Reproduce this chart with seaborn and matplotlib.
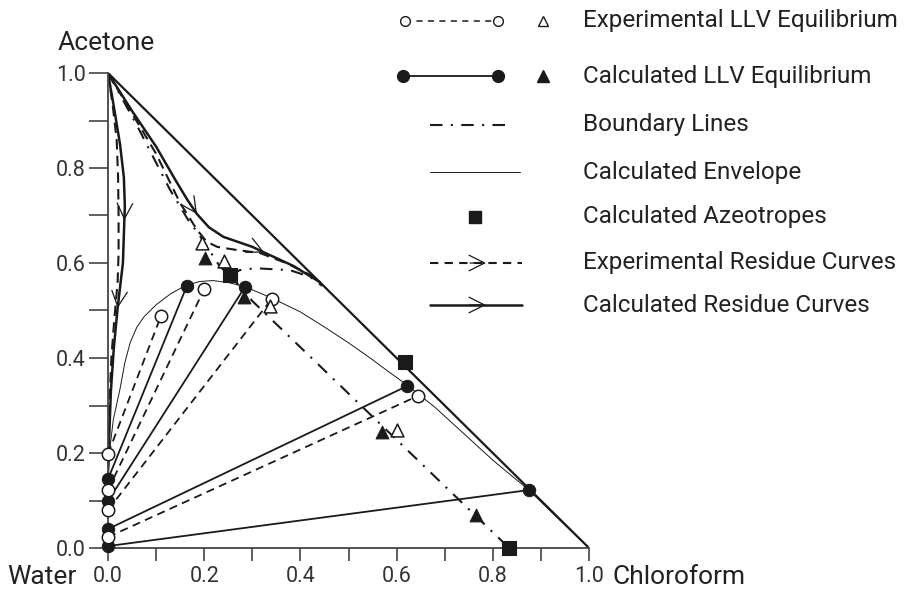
import numpy as np
import pandas as pd
import matplotlib
matplotlib.use('Agg')
import matplotlib.pyplot as plt
import seaborn as sns
from matplotlib.ticker import MultipleLocator

# x = chloroform mole fraction , y = acetone mole fraction
# experimental tie lines ( water rich end -> organic end )
exp_tie_x1 = [0.0, 0.0, 0.0, 0.0]
exp_tie_y1 = [0.198, 0.122, 0.080, 0.023]
exp_tie_x2 = [0.110, 0.200, 0.340, 0.644]
exp_tie_y2 = [0.488, 0.545, 0.524, 0.320]

# calculated tie lines
calc_tie_x1 = [0.0, 0.0, 0.0, 0.0]
calc_tie_y1 = [0.145, 0.099, 0.040, 0.004]
calc_tie_x2 = [0.164, 0.285, 0.622, 0.875]
calc_tie_y2 = [0.552, 0.550, 0.341, 0.122]

# LLV triangles
exp_llv_x = [0.195, 0.241, 0.337, 0.601]
exp_llv_y = [0.642, 0.604, 0.510, 0.248]
calc_llv_x = [0.202, 0.283, 0.570, 0.765]
calc_llv_y = [0.610, 0.528, 0.244, 0.069]

# azeotropes
azeo_x = [0.254, 0.617, 0.834]
azeo_y = [0.574, 0.392, 0.0]

# calculated envelope
env_x = [0.0, 0.002, 0.004, 0.011, 0.025, 0.035, 0.046, 0.060, 0.075, 0.100, 0.130, 0.160,
         0.190, 0.218, 0.250, 0.285, 0.341, 0.400, 0.455, 0.500, 0.545, 0.585, 0.622, 0.680,
         0.732, 0.800, 0.875, 0.940, 1.0]
env_y = [0.120, 0.170, 0.210, 0.270, 0.335, 0.390, 0.432, 0.465, 0.487, 0.512, 0.535, 0.552,
         0.561, 0.563, 0.559, 0.550, 0.526, 0.497, 0.462, 0.432, 0.400, 0.370, 0.343, 0.296,
         0.248, 0.185, 0.122, 0.058, 0.0]

# boundary lines
bnd1_x = [0.0, 0.06, 0.129, 0.167, 0.187, 0.215, 0.233, 0.254]
bnd1_y = [1.0, 0.89, 0.754, 0.690, 0.663, 0.620, 0.592, 0.574]
bnd2_x = [0.254, 0.274, 0.306, 0.378, 0.420, 0.445]
bnd2_y = [0.574, 0.585, 0.589, 0.585, 0.571, 0.552]
bnd3_x = [0.254, 0.300, 0.834]
bnd3_y = [0.574, 0.520, 0.0]

# residue curves
calc_res1_x = [0.0, 0.012, 0.025, 0.033, 0.035, 0.034, 0.031, 0.020, 0.012, 0.006, 0.002, 0.0]
calc_res1_y = [1.0, 0.930, 0.850, 0.780, 0.720, 0.690, 0.600, 0.505, 0.420, 0.330, 0.220, 0.170]
exp_res1_x = [0.0, 0.010, 0.018, 0.021, 0.022, 0.022, 0.020, 0.013, 0.007, 0.003, 0.001]
exp_res1_y = [1.0, 0.930, 0.860, 0.780, 0.700, 0.620, 0.560, 0.480, 0.400, 0.300, 0.230]
calc_res2_x = [0.0, 0.05, 0.10, 0.14, 0.165, 0.185, 0.21, 0.24, 0.30, 0.325, 0.385, 0.44]
calc_res2_y = [1.0, 0.92, 0.845, 0.775, 0.733, 0.703, 0.675, 0.655, 0.634, 0.622, 0.594, 0.560]
exp_res2_x = [0.0, 0.05, 0.10, 0.15, 0.185, 0.205, 0.227, 0.27, 0.316, 0.37, 0.42, 0.445]
exp_res2_y = [1.0, 0.915, 0.83, 0.726, 0.670, 0.645, 0.634, 0.627, 0.621, 0.600, 0.575, 0.555]

tick_vals = [0.0, 0.2, 0.4, 0.6, 0.8, 1.0]
tick_labels = ['0.0', '0.2', '0.4', '0.6', '0.8', '1.0']

legend_labels = ['Experimental LLV Equilibrium', 'Calculated LLV Equilibrium', 'Boundary Lines',
                 'Calculated Envelope', 'Calculated Azeotropes', 'Experimental Residue Curves',
                 'Calculated Residue Curves']

sns.set_style('ticks')
plt.rcParams['font.family'] = ['Roboto', 'DejaVu Sans']
INK = '#1a1a1a'
DASH = (4.5, 3)
DASHDOT = (6, 4, 1, 4)

fig = plt.figure(figsize=(9.15, 5.9), dpi=100)
ax = fig.add_axes([108 / 915, 42 / 590, 481 / 915, 475 / 590])
ax.set_xlim(0, 1)
ax.set_ylim(0, 1)

# triangle hypotenuse
sns.lineplot(x=[0, 1], y=[1, 0], ax=ax, color=INK, lw=1.6, sort=False, estimator=None)

# envelope
sns.lineplot(x=env_x, y=env_y, ax=ax, color=INK, lw=0.7, sort=False, estimator=None)

# boundary lines
for bx, by in [(bnd1_x, bnd1_y), (bnd2_x, bnd2_y), (bnd3_x, bnd3_y)]:
    sns.lineplot(x=bx, y=by, ax=ax, color=INK, lw=1.5, sort=False, estimator=None)
    ax.lines[-1].set_dashes(DASHDOT)

# residue curves
for rx, ry in [(calc_res1_x, calc_res1_y), (calc_res2_x, calc_res2_y)]:
    sns.lineplot(x=rx, y=ry, ax=ax, color=INK, lw=1.8, sort=False, estimator=None)
for rx, ry in [(exp_res1_x, exp_res1_y), (exp_res2_x, exp_res2_y)]:
    sns.lineplot(x=rx, y=ry, ax=ax, color=INK, lw=1.5, sort=False, estimator=None)
    ax.lines[-1].set_dashes((5, 3))

# arrows on calculated residue curves ( from point i to point j )
arrow_pts = [(calc_res1_x, calc_res1_y, 4, 5), (calc_res1_x, calc_res1_y, 6, 7),
             (calc_res2_x, calc_res2_y, 4, 5), (calc_res2_x, calc_res2_y, 8, 9)]
for rx, ry, i, j in arrow_pts:
    ax.annotate('', xy=(rx[j], ry[j]), xytext=(rx[i], ry[i]),
                arrowprops=dict(arrowstyle='->', color=INK, lw=0.9, mutation_scale=28,
                                shrinkA=0, shrinkB=0))

# tie lines
ties = pd.DataFrame({
    'x': exp_tie_x1 + exp_tie_x2 + calc_tie_x1 + calc_tie_x2,
    'y': exp_tie_y1 + exp_tie_y2 + calc_tie_y1 + calc_tie_y2,
    'tie': list(range(4)) * 2 + list(range(4, 8)) * 2,
    'kind': ['exp'] * 8 + ['calc'] * 8,
})
sns.lineplot(data=ties[ties.kind == 'exp'], x='x', y='y', units='tie', estimator=None,
             sort=False, ax=ax, color=INK, lw=1.3)
for ln in ax.lines[-4:]:
    ln.set_dashes(DASH)
sns.lineplot(data=ties[ties.kind == 'calc'], x='x', y='y', units='tie', estimator=None,
             sort=False, ax=ax, color=INK, lw=1.3)

sns.scatterplot(x=exp_tie_x1 + exp_tie_x2, y=exp_tie_y1 + exp_tie_y2, ax=ax, marker='o',
                s=80, facecolor='white', edgecolor=INK, linewidth=1.1, clip_on=False, zorder=5)
sns.scatterplot(x=calc_tie_x1 + calc_tie_x2, y=calc_tie_y1 + calc_tie_y2, ax=ax, marker='o',
                s=80, color=INK, edgecolor=INK, clip_on=False, zorder=4)
sns.scatterplot(x=exp_llv_x, y=exp_llv_y, ax=ax, marker='^', s=85, facecolor='white',
                edgecolor=INK, linewidth=1.1, zorder=5)
sns.scatterplot(x=calc_llv_x, y=calc_llv_y, ax=ax, marker='^', s=85, color=INK,
                edgecolor=INK, zorder=5)
sns.scatterplot(x=azeo_x, y=azeo_y, ax=ax, marker='s', s=95, color=INK, edgecolor=INK,
                clip_on=False, zorder=5)

# axes cosmetics
sns.despine(ax=ax)
for sp in ['left', 'bottom']:
    ax.spines[sp].set_color('#444444')
    ax.spines[sp].set_linewidth(1.3)
ax.set_xticks(tick_vals)
ax.set_yticks(tick_vals)
ax.set_xticklabels(tick_labels)
ax.set_yticklabels(tick_labels)
ax.xaxis.set_minor_locator(MultipleLocator(0.1))
ax.yaxis.set_minor_locator(MultipleLocator(0.1))
ax.tick_params(axis='x', which='both', length=9, width=1.2, color='#444444', pad=4,
               labelsize=15.5, labelcolor='#333333')
ax.tick_params(axis='y', which='both', length=14, width=1.2, color='#444444', pad=2,
               labelsize=15.5, labelcolor='#333333')
for t in ax.get_xticklabels() + ax.get_yticklabels():
    t.set_fontsize(15.5)
ax.set_xlabel('')
ax.set_ylabel('')

fig.text(106 / 915, 1 - 43 / 590, 'Acetone', ha='center', va='center', fontsize=19, color='#222222')
fig.text(42 / 915, 1 - 577 / 590, 'Water', ha='center', va='center', fontsize=19, color='#222222')
fig.text(613 / 915, 1 - 577 / 590, 'Chloroform', ha='left', va='center', fontsize=19, color='#222222')

# legend drawn in a pixel-space overlay
lax = fig.add_axes([0, 0, 1, 1], facecolor='none')
lax.set_xlim(0, 915)
lax.set_ylim(590, 0)
lax.axis('off')
rows = [21, 76, 125, 172, 217, 263, 305]

lax.plot([405, 498], [rows[0]] * 2, color=INK, lw=1.1, dashes=(4, 3.5))
lax.plot([405, 498], [rows[0]] * 2, ls='none', marker='o', ms=7, mfc='white', mec=INK, mew=1)
lax.plot([543], [rows[0]], marker='^', ms=7, mfc='white', mec=INK, mew=1)
lax.plot([403, 498], [rows[1]] * 2, color=INK, lw=1.3, marker='o', ms=8.5)
lax.plot([543], [rows[1]], marker='^', ms=8, color=INK)
lax.plot([430, 512], [rows[2]] * 2, color=INK, lw=1.5, dashes=DASHDOT)
lax.plot([430, 520], [rows[3]] * 2, color=INK, lw=0.7)
lax.plot([475], [rows[4]], marker='s', ms=9, color=INK)
lax.plot([430, 522], [rows[5]] * 2, color=INK, lw=1.5, dashes=(4, 3))
lax.plot([430, 522], [rows[6]] * 2, color=INK, lw=1.8)
for r in rows[5:]:
    lax.annotate('', xy=(486, r), xytext=(470, r),
                 arrowprops=dict(arrowstyle='->', color=INK, lw=0.9, mutation_scale=28,
                                 shrinkA=0, shrinkB=0))
for r, lab in zip(rows, legend_labels):
    lax.text(583, r, lab, ha='left', va='center', fontsize=17.5, color='#222222')

plt.savefig('out.png', dpi=100)
